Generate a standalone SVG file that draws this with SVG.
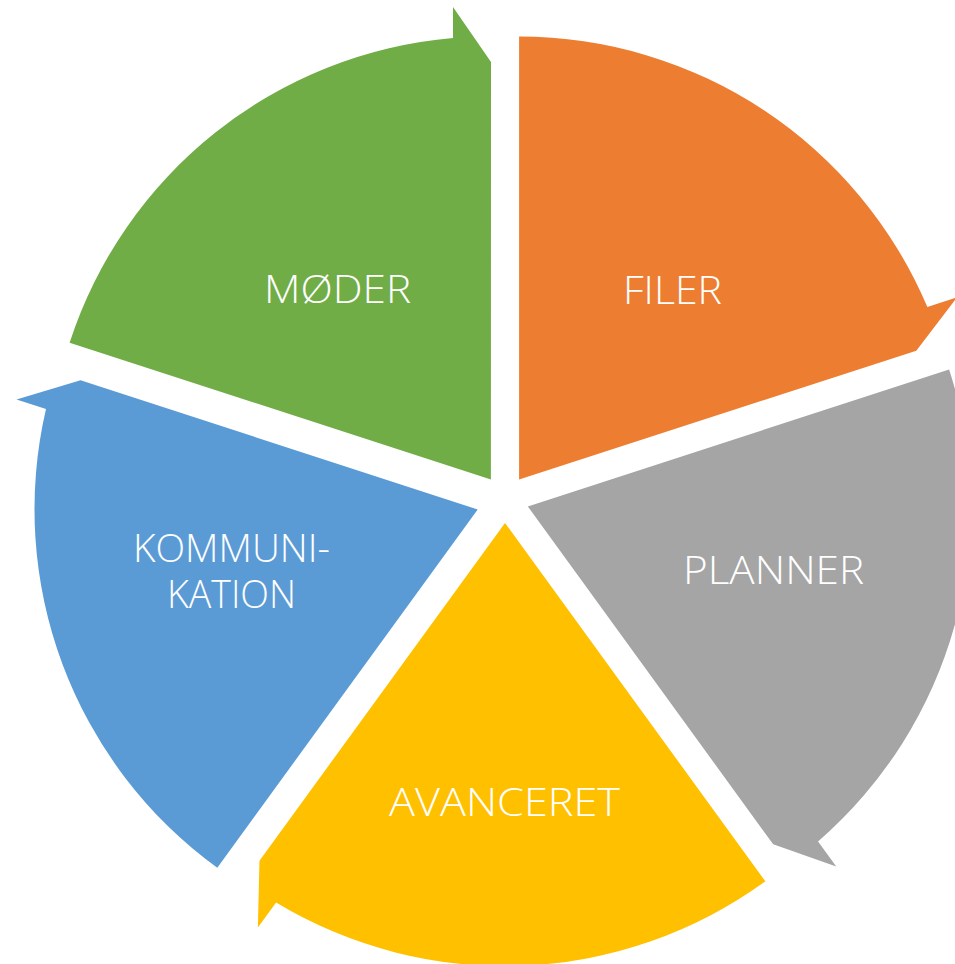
<svg xmlns="http://www.w3.org/2000/svg" width="955" height="964" viewBox="0 0 955 964">
  <style>
    .lbl { font-family: "Open Sans", "Liberation Sans", sans-serif; font-weight: 300; font-size: 39px; fill: #FFFFFF; text-anchor: middle; }
  </style>
  <defs>
    <path id="seg" d="M490.9,479.6 L69.6,342.7 A443,443 0 0 1 453,38 L453,7 L491,62 Z"/>
  </defs>
  <rect width="955" height="964" fill="#FFFFFF"/>
  <g id="connectors"/>
  <g id="node-moder">
    <use href="#seg" fill="#70AD47"/>
    <text class="lbl" x="337.5" y="303" textLength="147" lengthAdjust="spacingAndGlyphs">MØDER</text>
  </g>
  <g id="node-filer">
    <use href="#seg" fill="#ED7D31" transform="rotate(72 505 499)"/>
    <text class="lbl" x="672.5" y="304" textLength="99" lengthAdjust="spacingAndGlyphs">FILER</text>
  </g>
  <g id="node-planner">
    <use href="#seg" fill="#A5A5A5" transform="rotate(144 505 499)"/>
    <text class="lbl" x="773.5" y="584" textLength="181" lengthAdjust="spacingAndGlyphs">PLANNER</text>
  </g>
  <g id="node-avanceret">
    <use href="#seg" fill="#FFC000" transform="rotate(216 505 499)"/>
    <text class="lbl" x="504.5" y="816" textLength="231" lengthAdjust="spacingAndGlyphs">AVANCERET</text>
  </g>
  <g id="node-kommunikation">
    <use href="#seg" fill="#5B9BD5" transform="translate(-4.5 3) rotate(288 505 499)"/>
    <text class="lbl"><tspan x="231.5" y="562" textLength="197" lengthAdjust="spacingAndGlyphs">KOMMUNI-</tspan><tspan x="231.5" y="608" textLength="129" lengthAdjust="spacingAndGlyphs">KATION</tspan></text>
  </g>
</svg>
